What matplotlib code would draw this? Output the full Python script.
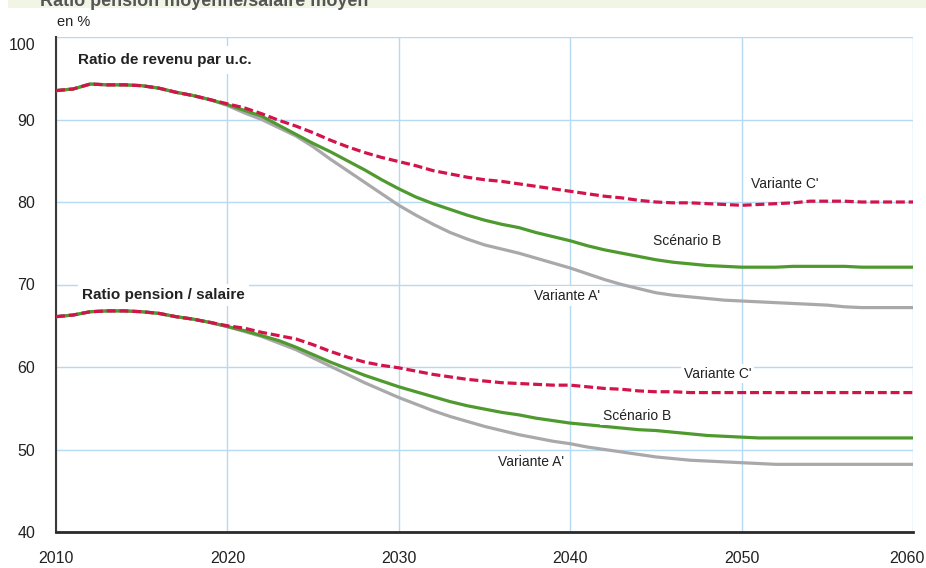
import matplotlib
matplotlib.use('Agg')
import matplotlib.pyplot as plt
from matplotlib.patches import Rectangle
from matplotlib.transforms import ScaledTranslation

years = list(range(2010, 2061))

# Ratio de revenu par u.c.
rev_c = [93.5, 93.7, 94.3, 94.2, 94.2, 94.1, 93.8, 93.3, 92.9, 92.4,
         91.9, 91.4, 90.7, 89.9, 89.2, 88.4, 87.5, 86.7, 86.0, 85.4,
         84.9, 84.4, 83.8, 83.4, 83.0, 82.7, 82.5, 82.2, 81.9, 81.6,
         81.3, 81.0, 80.7, 80.5, 80.2, 80.0, 79.9, 79.9, 79.8, 79.7,
         79.6, 79.7, 79.8, 79.9, 80.1, 80.1, 80.1, 80.0, 80.0, 80.0,
         80.0]
rev_b = [93.5, 93.7, 94.3, 94.2, 94.2, 94.1, 93.8, 93.3, 92.9, 92.4,
         91.8, 91.1, 90.4, 89.3, 88.2, 87.1, 86.1, 85.0, 83.9, 82.7,
         81.6, 80.6, 79.8, 79.1, 78.4, 77.8, 77.3, 76.9, 76.3, 75.8,
         75.3, 74.7, 74.2, 73.8, 73.4, 73.0, 72.7, 72.5, 72.3, 72.2,
         72.1, 72.1, 72.1, 72.2, 72.2, 72.2, 72.2, 72.1, 72.1, 72.1,
         72.1]
rev_a = [93.5, 93.7, 94.3, 94.2, 94.2, 94.1, 93.8, 93.3, 92.9, 92.4,
         91.7, 90.8, 90.0, 89.0, 88.0, 86.7, 85.2, 83.8, 82.4, 81.0,
         79.6, 78.4, 77.3, 76.3, 75.5, 74.8, 74.3, 73.8, 73.2, 72.6,
         72.0, 71.3, 70.6, 70.0, 69.5, 69.0, 68.7, 68.5, 68.3, 68.1,
         68.0, 67.9, 67.8, 67.7, 67.6, 67.5, 67.3, 67.2, 67.2, 67.2,
         67.2]

# Ratio pension / salaire
pen_c = [66.1, 66.3, 66.7, 66.8, 66.8, 66.7, 66.5, 66.1, 65.8, 65.4,
         65.0, 64.7, 64.2, 63.8, 63.4, 62.7, 61.9, 61.2, 60.6, 60.2,
         59.9, 59.5, 59.1, 58.8, 58.5, 58.3, 58.1, 58.0, 57.9, 57.8,
         57.8, 57.6, 57.4, 57.3, 57.1, 57.0, 57.0, 56.9, 56.9, 56.9,
         56.9, 56.9, 56.9, 56.9, 56.9, 56.9, 56.9, 56.9, 56.9, 56.9,
         56.9]
pen_b = [66.1, 66.3, 66.7, 66.8, 66.8, 66.7, 66.5, 66.1, 65.8, 65.4,
         64.9, 64.4, 63.8, 63.2, 62.4, 61.5, 60.6, 59.8, 59.0, 58.3,
         57.6, 57.0, 56.4, 55.8, 55.3, 54.9, 54.5, 54.2, 53.8, 53.5,
         53.2, 53.0, 52.8, 52.6, 52.4, 52.3, 52.1, 51.9, 51.7, 51.6,
         51.5, 51.4, 51.4, 51.4, 51.4, 51.4, 51.4, 51.4, 51.4, 51.4,
         51.4]
pen_a = [66.1, 66.3, 66.7, 66.8, 66.8, 66.7, 66.5, 66.1, 65.8, 65.4,
         64.9, 64.3, 63.7, 62.9, 62.1, 61.1, 60.1, 59.1, 58.1, 57.2,
         56.3, 55.5, 54.7, 54.0, 53.4, 52.8, 52.3, 51.8, 51.4, 51.0,
         50.7, 50.3, 50.0, 49.7, 49.4, 49.1, 48.9, 48.7, 48.6, 48.5,
         48.4, 48.3, 48.2, 48.2, 48.2, 48.2, 48.2, 48.2, 48.2, 48.2,
         48.2]

xticks = [2010, 2020, 2030, 2040, 2050, 2060]
yticks = [40, 50, 60, 70, 80, 90, 100]

title = "Ratio pension moyenne/salaire moyen"
unit = "en %"
group_labels = ["Ratio de revenu par u.c.", "Ratio pension / salaire"]
series_names = ["Variante C'", "Scénario B", "Variante A'"]

GREEN = '#4f9a2f'
GRAY = '#a9a9ab'
RED = '#d3144b'
GRID = '#b5daf2'

plt.rcParams['font.family'] = ['Liberation Sans', 'DejaVu Sans']

fig = plt.figure(figsize=(9.26, 5.68), dpi=100)
ax = fig.add_axes([56 / 926, 36 / 568, (913 - 56) / 926, (532 - 37) / 568])

# title band (cut off at the top, as in the reference)
fig.patches.append(Rectangle((8 / 926, 1 - 8 / 568), 1, 8 / 568,
                             transform=fig.transFigure, facecolor='#f1f5e6',
                             edgecolor='none', zorder=0))
fig.text(40 / 926, 1 - 6 / 568, title, fontsize=13, fontweight='bold',
         color='#555555', va='baseline', ha='left')
fig.text(57 / 926, 1 - 22 / 568, unit, fontsize=10.5, color='#222222',
         va='center', ha='left')

lw = 2.3
for ya, yb, yc in [(rev_a, rev_b, rev_c), (pen_a, pen_b, pen_c)]:
    ax.plot(years, ya, color=GRAY, lw=lw, solid_capstyle='butt', zorder=3)
    ax.plot(years, yb, color=GREEN, lw=lw, solid_capstyle='butt', zorder=4)
    ax.plot(years, yc, color=RED, lw=lw, dashes=(2.8, 1.2), zorder=5)

ax.set_xlim(2010, 2060)
ax.set_ylim(40, 100)
ax.set_xticks(xticks)
ax.set_yticks(yticks)
ax.set_xticklabels([str(t) for t in xticks])
ax.set_yticklabels([str(t) for t in yticks])
ax.tick_params(axis='both', length=0, labelsize=11.5, colors='#222222')
ax.tick_params(axis='y', pad=15)
ax.tick_params(axis='x', pad=14)
ax.grid(True, color=GRID, lw=1.0, zorder=0)
ax.set_axisbelow(True)

for s in ['top', 'right']:
    ax.spines[s].set_visible(False)
ax.spines['left'].set_color('#3a3a3a')
ax.spines['left'].set_linewidth(1.5)
ax.spines['bottom'].set_color('#2a2a2a')
ax.spines['bottom'].set_linewidth(2.0)

# small offsets of edge labels as in the reference
for lab in ax.get_yticklabels():
    if lab.get_text() == '100':
        lab.set_transform(lab.get_transform() + ScaledTranslation(0, -7 / 100, fig.dpi_scale_trans))
for lab in ax.get_xticklabels():
    if lab.get_text() == '2060':
        lab.set_transform(lab.get_transform() + ScaledTranslation(-6 / 100, 0, fig.dpi_scale_trans))

ax.text(2011.3, 97.2, group_labels[0], fontsize=11, fontweight='bold',
        color='#222222', ha='left', va='center',
        bbox=dict(facecolor='white', edgecolor='none', pad=5), zorder=6)
ax.text(2011.5, 68.7, group_labels[1], fontsize=11, fontweight='bold',
        color='#222222', ha='left', va='center',
        bbox=dict(facecolor='white', edgecolor='none', pad=3), zorder=6)

wbox = dict(facecolor='white', edgecolor='none', pad=2)
ann_top = [(2052.5, 82.2), (2046.8, 75.3), (2039.8, 68.6)]
ann_bot = [(2048.6, 59.2), (2043.9, 54.1), (2037.7, 48.5)]
for (x, y), name in zip(ann_top + ann_bot, series_names + series_names):
    ax.text(x, y, name, fontsize=10, color='#222222',
            ha='center', va='center', bbox=wbox, zorder=6)

fig.savefig('out.png', dpi=100)
